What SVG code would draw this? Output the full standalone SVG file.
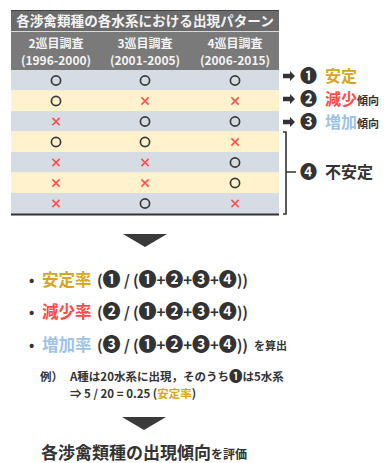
<svg xmlns="http://www.w3.org/2000/svg" width="386" height="463" viewBox="0 0 386 463">
<style>
text{font-family:"Noto Sans CJK JP","Noto Sans",sans-serif;font-weight:bold;fill:#333}
.w{fill:#f4f4f4}
.hd{font-size:12px;text-anchor:middle}
.o{fill:none;stroke:#3a3a3a;stroke-width:1.7}
.x{fill:none;stroke:#ff4d4d;stroke-width:1.5}
.rb{fill:#d6dce4}
.ry{fill:#fff2cc}
.gold{fill:#d9a521}
.red{fill:#ff4a4a}
.blue{fill:#9dc3e6}
.num{font-size:17px}
.lab{font-size:16px}
.sm{font-size:11px}
.f{font-size:15px}
.c{font-size:18px}
.ln{stroke:#333;stroke-width:1.6;fill:none}
</style>
<defs>
<circle id="o" r="4.6" class="o"/>
<path id="x" d="M-3.6,-3.6L3.6,3.6M3.6,-3.6L-3.6,3.6" class="x"/>
<path id="arr" d="M0,-2.2H7V-5L12,0L7,5V2.2H0Z" fill="#333"/>
<path id="tri" d="M0,0H44L22,13Z" fill="#3a3a3a"/>
</defs>
<g id="table">
<rect x="11" y="10" width="268" height="21" fill="#6b6b6b"/>
<line x1="11" y1="10.5" x2="279" y2="10.5" stroke="#444" stroke-width="1"/>
<rect x="11" y="31" width="268" height="39" fill="#7a7a7a"/>
<line x1="11" y1="31.5" x2="279" y2="31.5" stroke="#d8d8d8" stroke-width="1"/>
<text x="145" y="26" class="w" font-size="13.6" text-anchor="middle">各渉禽類種の各水系における出現パターン</text>
<text x="56" y="48" class="w hd">2巡目調査</text>
<text x="145" y="48" class="w hd">3巡目調査</text>
<text x="235" y="48" class="w hd">4巡目調査</text>
<text x="56" y="65" class="w hd">(1996-2000)</text>
<text x="145" y="65" class="w hd">(2001-2005)</text>
<text x="235" y="65" class="w hd">(2006-2015)</text>
<rect x="11" y="70" width="268" height="20.5" class="rb"/>
<rect x="11" y="90.5" width="268" height="20.5" class="ry"/>
<rect x="11" y="111" width="268" height="20.5" class="rb"/>
<rect x="11" y="131.5" width="268" height="20.5" class="ry"/>
<rect x="11" y="152" width="268" height="20.5" class="rb"/>
<rect x="11" y="172.5" width="268" height="20.5" class="ry"/>
<rect x="11" y="193" width="268" height="21" class="rb"/>
<line x1="11" y1="214.5" x2="279" y2="214.5" stroke="#333" stroke-width="2"/>
<use href="#o" x="56" y="80.5"/><use href="#o" x="145" y="80.5"/><use href="#o" x="235" y="80.5"/>
<use href="#o" x="56" y="101"/><use href="#x" x="145" y="101"/><use href="#x" x="235" y="101"/>
<use href="#x" x="56" y="121.5"/><use href="#o" x="145" y="121.5"/><use href="#o" x="235" y="121.5"/>
<use href="#o" x="56" y="142"/><use href="#o" x="145" y="142"/><use href="#x" x="235" y="142"/>
<use href="#x" x="56" y="162.5"/><use href="#x" x="145" y="162.5"/><use href="#o" x="235" y="162.5"/>
<use href="#x" x="56" y="183"/><use href="#x" x="145" y="183"/><use href="#o" x="235" y="183"/>
<use href="#x" x="56" y="203.5"/><use href="#o" x="145" y="203.5"/><use href="#x" x="235" y="203.5"/>
</g>
<g id="connectors">
<use href="#arr" x="283" y="76"/>
<use href="#arr" x="283" y="99"/>
<use href="#arr" x="283" y="122"/>
<path class="ln" d="M283,132H286V214H283M286,172H296"/>
<use href="#tri" x="123" y="234"/>
<use href="#tri" x="122" y="417"/>
</g>
<g id="label1"><text x="300" y="82" class="num">❶</text><text x="325" y="82" class="lab gold">安定</text></g>
<g id="label2"><text x="300" y="105" class="num">❷</text><text x="325" y="105" class="lab red">減少</text><text x="357" y="105" class="sm">傾向</text></g>
<g id="label3"><text x="300" y="128" class="num">❸</text><text x="325" y="128" class="lab blue">増加</text><text x="357" y="128" class="sm">傾向</text></g>
<g id="label4"><text x="300" y="178" class="num">❹</text><text x="325" y="178" class="lab">不安定</text></g>
<g id="formulas">
<text x="29" y="285" font-size="14">•</text>
<text x="42" y="286" font-size="16.5" class="gold">安定率</text>
<text x="97" y="286" class="f" textLength="151" lengthAdjust="spacing">(<tspan class="c">❶</tspan> / (<tspan class="c">❶</tspan>+<tspan class="c">❷</tspan>+<tspan class="c">❸</tspan>+<tspan class="c">❹</tspan>))</text>
<text x="29" y="317" font-size="14">•</text>
<text x="42" y="318" font-size="16.5" class="red">減少率</text>
<text x="97" y="318" class="f" textLength="151" lengthAdjust="spacing">(<tspan class="c">❷</tspan> / (<tspan class="c">❶</tspan>+<tspan class="c">❷</tspan>+<tspan class="c">❸</tspan>+<tspan class="c">❹</tspan>))</text>
<text x="29" y="350" font-size="14">•</text>
<text x="42" y="351" font-size="16.5" class="blue">増加率</text>
<text x="97" y="351" class="f" textLength="151" lengthAdjust="spacing">(<tspan class="c">❸</tspan> / (<tspan class="c">❶</tspan>+<tspan class="c">❷</tspan>+<tspan class="c">❸</tspan>+<tspan class="c">❹</tspan>))</text>
<text x="254" y="350" class="sm">を算出</text>
</g>
<g id="example">
<text x="40" y="381" font-size="11.5">例）</text>
<text x="70" y="381" font-size="11.5">A種は20水系に出現，そのうち<tspan font-size="13.5">❶</tspan>は5水系</text>
<text x="70" y="398" font-size="11.5">⇒ 5 / 20 = 0.25 (<tspan class="gold">安定率</tspan>)</text>
</g>
<g id="result">
<text x="41" y="459" font-size="17">各渉禽類種の出現傾向<tspan font-size="12">を評価</tspan></text>
</g>
</svg>
